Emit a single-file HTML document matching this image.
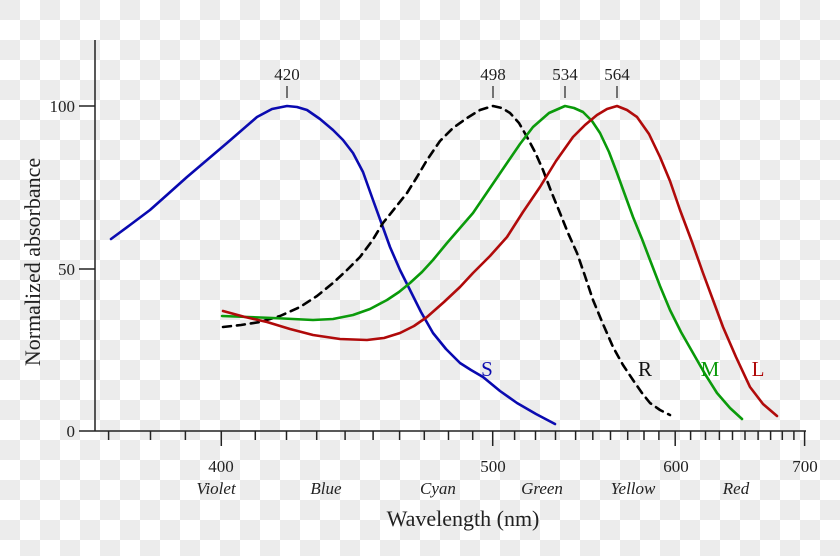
<!DOCTYPE html>
<html><head><meta charset="utf-8"><style>
html,body{margin:0;padding:0;background:#fff}
svg{display:block}
text{font-family:"Liberation Serif",serif;fill:#222}
</style></head><body>
<svg width="840" height="556" viewBox="0 0 840 556" xmlns="http://www.w3.org/2000/svg">
<defs>
<pattern id="ck" x="0" y="0" width="40" height="40" patternUnits="userSpaceOnUse">
<rect width="40" height="40" fill="#fff"/>
<rect x="0" y="0" width="20" height="20" fill="#ececec"/>
<rect x="20" y="20" width="20" height="20" fill="#ececec"/>
</pattern>
</defs>
<rect width="840" height="556" fill="url(#ck)"/>
<g stroke="#222" stroke-width="1.5" fill="none">
<line x1="95" y1="40" x2="95" y2="431"/>
<line x1="95" y1="431" x2="806" y2="431"/>
<line x1="79" y1="106" x2="95" y2="106"/>
<line x1="79" y1="269" x2="95" y2="269"/>
<line x1="79" y1="431" x2="95" y2="431"/>
<path d="M108.6 431v9M150.5 431v9M185.4 431v9M255.3 431v9M286.5 431v9M316.7 431v9M345.1 431v9M373.1 431v9M399.6 431v9M424.3 431v9M448.5 431v9M472.7 431v9M514.6 431v9M535.5 431v9M555.5 431v9M575.6 431v9M592.8 431v9M610.5 431v9M627.7 431v9M644 431v9M658.9 431v9M690.6 431v9M705.5 431v9M719.4 431v9M732.5 431v9M745 431v9M758.1 431v9M770.6 431v9M782.3 431v9M793.9 431v9"/>
<path d="M221.3 431v15M492.7 431v15M675.2 431v15M804.6 431v15"/>
<path d="M287 86v12M493 86v12M565 86v12M617 86v12" stroke-width="1.2"/>
</g>
<g font-size="17" text-anchor="end">
<text x="75" y="112">100</text>
<text x="75" y="275">50</text>
<text x="75" y="437">0</text>
</g>
<g font-size="17" text-anchor="middle">
<text x="221" y="472">400</text>
<text x="493" y="472">500</text>
<text x="676" y="472">600</text>
<text x="805" y="472">700</text>
<text x="287" y="80">420</text>
<text x="493" y="80">498</text>
<text x="565" y="80">534</text>
<text x="617" y="80">564</text>
</g>
<g font-size="17" font-style="italic" text-anchor="middle">
<text x="216" y="494">Violet</text>
<text x="326" y="494">Blue</text>
<text x="438" y="494">Cyan</text>
<text x="542" y="494">Green</text>
<text x="633" y="494">Yellow</text>
<text x="736" y="494">Red</text>
</g>
<text x="463" y="526" font-size="22" text-anchor="middle">Wavelength (nm)</text>
<text transform="translate(40,262) rotate(-90)" font-size="22" text-anchor="middle">Normalized absorbance</text>
<g fill="none" stroke-width="2.6" stroke-linejoin="round" stroke-linecap="round">
<polyline stroke="#0a0ab0" points="111,239 130,225 150,210 168,194 187,177 207,160 227,143 242,130 257,117 272,109 287,106 297,107 307,110 320,119 333,130 343,140 353,153 363,172 373,200 381,222 390,247 400,270 410,290 421,312 433,333 446,349 460,363 471,370 483,377 500,391 517,403 536,414 555,424"/>
<polyline stroke="#000" stroke-dasharray="8,6" points="223,327 241,325 260,322 280,316 300,307 317,296 333,283 347,270 360,257 372,241 383,223 395,208 407,193 417,177 427,160 440,141 453,128 467,118 480,110 493,106 502,108 510,113 519,123 527,137 535,152 543,170 551,191 560,213 568,233 577,253 585,276 593,300 603,324 613,347 623,365 633,380 642,393 650,403 660,410 670,415"/>
<polyline stroke="#0a9a0a" points="222,316 248,317 273,318 293,319 313,320 333,319 353,315 370,309 387,300 399,292 410,283 422,272 433,260 447,243 460,228 473,213 490,188 507,163 520,144 533,127 549,113 565,106 574,108 583,112 592,121 600,133 609,152 617,173 625,195 633,217 642,239 650,260 660,286 670,310 681,332 693,353 705,374 717,393 730,408 742,419"/>
<polyline stroke="#b00a0a" points="223,311 245,317 267,322 290,329 313,335 340,339 367,340 384,338 400,333 414,326 427,317 444,302 460,287 473,273 490,256 507,237 523,212 540,187 556,161 573,137 585,125 597,115 607,109 617,106 627,110 637,117 649,134 660,157 670,181 680,210 692,242 703,273 713,300 723,327 736,357 750,387 763,404 777,416"/>
</g>
<g font-size="21" text-anchor="middle">
<text x="487" y="376" style="fill:#0a0ab0">S</text>
<text x="645" y="376" style="fill:#111">R</text>
<text x="710" y="376" style="fill:#0a9a0a">M</text>
<text x="758" y="376" style="fill:#b00a0a">L</text>
</g>
</svg>
</body></html>
